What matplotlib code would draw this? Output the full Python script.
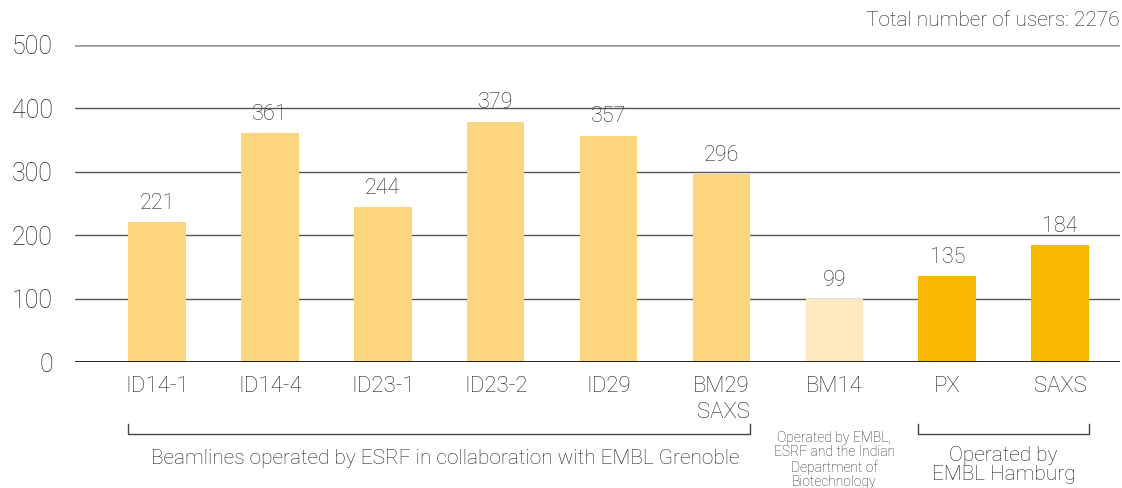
import matplotlib
matplotlib.use("Agg")
import matplotlib.pyplot as plt
import matplotlib.transforms as mtransforms

plt.rcParams['font.family'] = ['Roboto', 'DejaVu Sans']
plt.rcParams['font.weight'] = 'light'

beamlines = ["ID14-1", "ID14-4", "ID23-1", "ID23-2", "ID29", "BM29\nSAXS",
             "BM14", "PX", "SAXS"]
users = [221, 361, 244, 379, 357, 296, 99, 135, 184]
groups = ["grenoble"] * 6 + ["india", "hamburg", "hamburg"]
yticks = [0, 100, 200, 300, 400, 500]
total_users = 2276

pcols = {"grenoble": "#fdd57e", "india": "#fee9c0", "hamburg": "#f9b800"}
txt = "#222222"
width = 0.51

fig = plt.figure(figsize=(11.22, 4.88), dpi=100)
ax = fig.add_axes([75 / 1122, 126 / 488, 1045 / 1122, 317 / 488])

xs = list(range(len(beamlines)))
ax.bar(xs, users, width=width, color=[pcols[g] for g in groups], zorder=3)
for x, v in zip(xs, users):
    ax.annotate(str(v), (x, v), xytext=(0, 6), textcoords="offset points",
                ha="center", va="bottom", fontsize=15.5, color=txt,
                fontweight="light")

ax.set_ylim(0, 500)
ax.set_xlim(-0.726, 8.53)
for y in yticks[1:]:
    ax.axhline(y, color="#999999" if y == 500 else "#555555",
               lw=1.8 if y == 500 else 1.0, zorder=1)
ax.axhline(0, color="black", lw=1.2, zorder=4)

ax.set_yticks(yticks)
ax.set_yticklabels([str(t) for t in yticks], fontsize=18, color=txt)
ax.set_xticks(xs)
ax.set_xticklabels(beamlines, fontsize=16, color=txt, multialignment="right",
                   va="top", linespacing=1.3)
ax.tick_params(axis="both", length=0)
ax.tick_params(axis="y", pad=16)
ax.tick_params(axis="x", pad=10)
for s in ax.spines.values():
    s.set_visible(False)

# group brackets under the beamline names
trans = mtransforms.blended_transform_factory(ax.transData, fig.transFigure)
yb = 1 - 434 / 488
yt = 1 - 424 / 488


def bracket(x0, x1):
    ax.plot([x0, x0, x1, x1], [yt, yb, yb, yt], color="#444444", lw=1.0,
            transform=trans, clip_on=False)


bracket(0 - width / 2, 5 + width / 2)
bracket(7 - width / 2, 8 + width / 2)

ax.text(2.55, 1 - 458 / 488, "Beamlines operated by ESRF in collaboration with EMBL Grenoble",
        transform=trans, ha="center", va="center", fontsize=15, color=txt)
ax.text(6, 1 - 460 / 488, "Operated by EMBL,\nESRF and the Indian\nDepartment of\nBiotechnology",
        transform=trans, ha="center", va="center", fontsize=10, color=txt,
        linespacing=1.05)
ax.text(7.5, 1 - 446 / 488, "Operated by\nEMBL Hamburg", transform=trans,
        ha="center", va="top", fontsize=15, color=txt, linespacing=1.0)

fig.text(1120 / 1122, 1 - 21 / 488, "Total number of users: %d" % total_users,
         ha="right", va="center", fontsize=15, color=txt)

fig.savefig("out.png", dpi=100)
